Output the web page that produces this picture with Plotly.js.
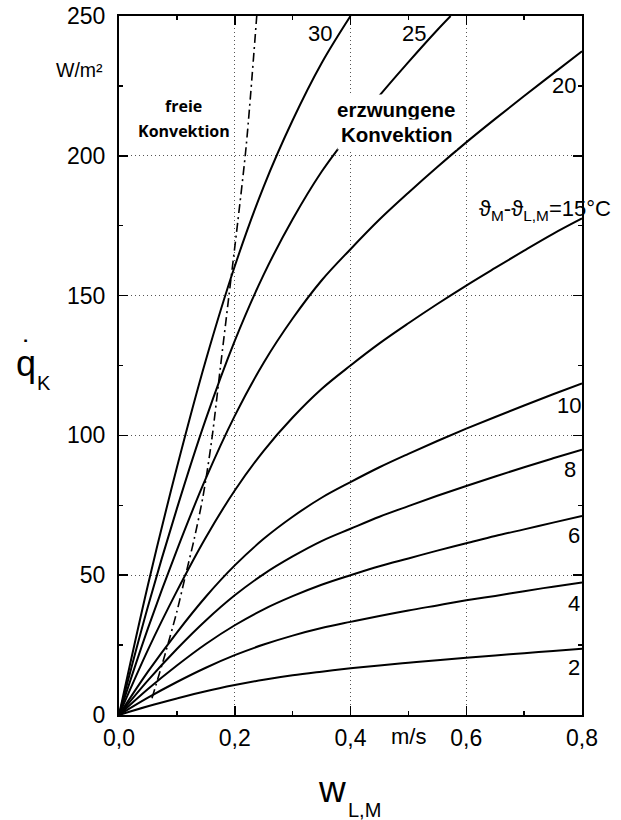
<!DOCTYPE html>
<html>
<head>
<meta charset="utf-8">
<script src="https://cdn.plot.ly/plotly-3.0.1.min.js"></script>
<style>
  html, body { margin: 0; padding: 0; background: #fff; }
  #chart { width: 621px; height: 820px; }
</style>
</head>
<body>
<div id="chart"></div>
<script>
// Air velocity w_L,M (m/s) at which the heat flux values are given
const wGrid = [0, 0.05, 0.1, 0.15, 0.2, 0.25, 0.3, 0.35, 0.4, 0.45, 0.5, 0.55, 0.6, 0.65, 0.7, 0.75, 0.8];

// Convective heat flux q_K (W/m²) for each temperature difference ϑM - ϑL,M
const q2  = [0, 3.1, 5.9, 8.5, 10.7, 12.6, 14.2, 15.5, 16.7, 17.7, 18.7, 19.6, 20.5, 21.3, 22.1, 22.9, 23.7];
const q4  = [0, 6.2, 11.8, 16.9, 21.4, 25.2, 28.4, 31.1, 33.3, 35.4, 37.4, 39.2, 41.0, 42.6, 44.3, 45.9, 47.4];
const q6  = [0, 9.3, 17.7, 25.4, 32.1, 37.8, 42.5, 46.6, 50.0, 53.2, 56.0, 58.8, 61.4, 64.0, 66.4, 68.8, 71.2];
const q8  = [0, 12.4, 23.6, 33.8, 42.8, 50.4, 56.7, 62.2, 66.6, 70.9, 74.7, 78.4, 81.9, 85.3, 88.6, 91.8, 94.9];
const q10 = [0, 15.5, 29.5, 42.3, 53.5, 63.0, 70.9, 77.7, 83.3, 88.6, 93.4, 98.0, 102.4, 106.6, 110.7, 114.7, 118.6];
const q15 = [0, 23.3, 44.3, 63.5, 80.3, 94.5, 106.4, 116.6, 125.0, 132.9, 140.1, 147.0, 153.6, 159.9, 166.1, 172.1, 177.6];
const q20 = [0, 31.0, 59.0, 84.6, 107.0, 126.0, 141.8, 155.4, 166.6, 177.2, 186.8, 196.0, 204.8, 213.2, 221.4, 229.4, 237.4];

// The two hottest curves leave the chart at the top edge
const w25 = [0, 0.05, 0.1, 0.15, 0.2, 0.25, 0.3, 0.35, 0.4, 0.45, 0.5, 0.55, 0.573];
const q25 = [0, 38.8, 73.8, 105.8, 133.8, 157.5, 177.3, 194.3, 208.3, 221.5, 233.5, 245.0, 250];
const w30 = [0, 0.05, 0.1, 0.15, 0.2, 0.25, 0.3, 0.35, 0.4];
const q30 = [0, 46.5, 88.5, 126.9, 160.5, 189.0, 212.7, 233.1, 250];

// Boundary between free and forced convection
const wBoundary = [0.057, 0.08, 0.1, 0.115, 0.13, 0.145, 0.16, 0.175, 0.19, 0.205, 0.22, 0.238];
const qBoundary = [6, 22, 37, 50, 63, 78, 98, 124, 150, 176, 204, 250];

// Curve labels
const curveLabels = ['2', '4', '6', '8', '10', '20', '25', '30'];

const curves = [
  [wGrid, q2], [wGrid, q4], [wGrid, q6], [wGrid, q8], [wGrid, q10],
  [wGrid, q15], [wGrid, q20], [w25, q25], [w30, q30]
];

const traces = curves.map(([x, y]) => ({
  x: x, y: y, type: 'scatter', mode: 'lines',
  line: { color: '#000', width: 2, shape: 'spline', smoothing: 1 },
  hoverinfo: 'skip'
}));

traces.push({
  x: wBoundary, y: qBoundary, type: 'scatter', mode: 'lines',
  line: { color: '#000', width: 1.6, dash: '9px,4px,2px,4px', shape: 'spline', smoothing: 0.8 },
  hoverinfo: 'skip'
});

// plot area in page pixels, used to place the free-standing texts
const L = 119, R = 582, T = 16, B = 715;
const px = (x) => (x - L) / (R - L);
const py = (y) => (B - y) / (B - T);

const sans = 'Liberation Sans, Arial, Helvetica, sans-serif';

function label(text, x, y, size, opts) {
  return Object.assign({
    text: text, xref: 'paper', yref: 'paper', x: px(x), y: py(y),
    xanchor: 'center', yanchor: 'middle', showarrow: false,
    font: { family: sans, size: size, color: '#000' }
  }, opts || {});
}

const curveLabelPos = {
  '2': [574, 667], '4': [574, 603], '6': [574, 535], '8': [570, 469],
  '10': [569, 406], '20': [564, 85], '25': [414, 34], '30': [320, 34]
};

const annotations = curveLabels.map(t => label(t, curveLabelPos[t][0], curveLabelPos[t][1], 22));

const freeFont = { family: 'Open Sans, sans-serif', size: 16, color: '#000' };

annotations.push(
  label('ϑ<sub>M</sub>-ϑ<sub>L,M</sub>=15°C', 477, 210, 22, { xanchor: 'left' }),
  label('W/m²', 105, 70, 19.5, { xanchor: 'right' }),
  label('m/s', 408, 737, 22),
  label('<b>freie</b>', 183, 106, 16, { font: freeFont }),
  label('<b>Konvektion</b>', 184, 131, 16, { font: freeFont }),
  label('<b>erzwungene</b>', 396, 109, 20.5, { bgcolor: '#fff', borderpad: 3 }),
  label('<b>Konvektion</b>', 397, 134, 20.5, { bgcolor: '#fff', borderpad: 3 }),
  // axis titles
  label('w', 316, 789, 37, { xanchor: 'left' }),
  label('L,M', 346, 810, 20, { xanchor: 'left' }),
  label('q', 14, 364, 36, { xanchor: 'left' }),
  label('K', 35, 383, 20, { xanchor: 'left' }),
  label('˙', 20, 350, 30, { xanchor: 'left' })
);

const axisCommon = {
  showline: true, linecolor: '#000', linewidth: 2, mirror: 'ticks',
  ticks: 'inside', ticklen: 9, tickwidth: 1.5, tickcolor: '#000',
  showgrid: true, gridcolor: '#555', gridwidth: 1, griddash: '1px,3px',
  zeroline: false, fixedrange: true,
  tickfont: { family: sans, size: 23, color: '#000' }
};

const layout = {
  width: 621, height: 820,
  margin: { l: L, r: 621 - R, t: T, b: 820 - B },
  paper_bgcolor: '#fff', plot_bgcolor: '#fff',
  showlegend: false,
  separators: ', ',
  xaxis: Object.assign({}, axisCommon, {
    range: [0, 0.8], dtick: 0.2, tick0: 0, tickformat: '.1f',
    ticklabelstandoff: 1,
    minor: { dtick: 0.1, ticks: 'inside', ticklen: 4, tickwidth: 1.5, tickcolor: '#000', showgrid: false }
  }),
  yaxis: Object.assign({}, axisCommon, {
    range: [0, 250], dtick: 50, tick0: 0,
    ticklabelstandoff: 7,
    minor: { dtick: 25, ticks: 'inside', ticklen: 4, tickwidth: 1.5, tickcolor: '#000', showgrid: false }
  }),
  annotations: annotations
};

Plotly.newPlot('chart', traces, layout, { staticPlot: true, displayModeBar: false });
</script>
</body>
</html>
